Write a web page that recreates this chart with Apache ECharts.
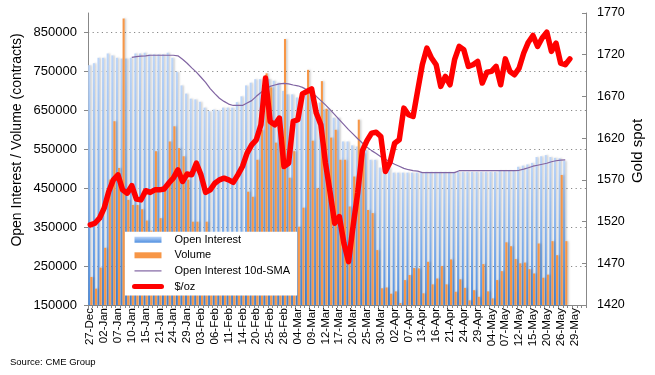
<!DOCTYPE html>
<html>
<head>
<meta charset="utf-8">
<script src="https://cdn.jsdelivr.net/npm/echarts@6/dist/echarts.min.js"></script>
<style>
  html, body { margin: 0; padding: 0; background: #fff; }
  #chart-container { width: 655px; height: 375px; }
</style>
</head>
<body>
<div id="chart-container"></div>
<script>
// fechas (dias de negociacion), etiqueta cada 3
const fechas = [
  '27-Dec','30-Dec','31-Dec','02-Jan','03-Jan','06-Jan','07-Jan','08-Jan','09-Jan','10-Jan',
  '13-Jan','14-Jan','15-Jan','16-Jan','17-Jan','21-Jan','22-Jan','23-Jan','24-Jan','27-Jan',
  '28-Jan','29-Jan','30-Jan','31-Jan','03-Feb','04-Feb','05-Feb','06-Feb','07-Feb','10-Feb',
  '11-Feb','12-Feb','13-Feb','14-Feb','18-Feb','19-Feb','20-Feb','21-Feb','24-Feb','25-Feb',
  '26-Feb','27-Feb','28-Feb','02-Mar','03-Mar','04-Mar','05-Mar','06-Mar','09-Mar','10-Mar',
  '11-Mar','12-Mar','13-Mar','16-Mar','17-Mar','18-Mar','19-Mar','20-Mar','23-Mar','24-Mar',
  '25-Mar','26-Mar','27-Mar','30-Mar','31-Mar','01-Apr','02-Apr','03-Apr','06-Apr','07-Apr',
  '08-Apr','09-Apr','13-Apr','14-Apr','15-Apr','16-Apr','17-Apr','20-Apr','21-Apr','22-Apr',
  '23-Apr','24-Apr','27-Apr','28-Apr','29-Apr','30-Apr','01-May','04-May','05-May','06-May',
  '07-May','08-May','11-May','12-May','13-May','14-May','15-May','18-May','19-May','20-May',
  '21-May','22-May','26-May','27-May','28-May','29-May','01-Jun','02-Jun'
];

const openInterest = [
  766000, 771000, 785000, 785000, 796000, 791000, 785000, 783000, 783000, 785000,
  796000, 796000, 798000, 794000, 794000, 794000, 794000, 798000, 785000, 749000,
  714000, 693000, 680000, 678000, 672000, 657000, 648000, 652000, 650000, 657000,
  657000, 657000, 671000, 686000, 714000, 721000, 730000, 730000, 730000, 730000,
  726000, 721000, 700000, 691000, 691000, 683000, 683000, 696000, 696000, 670000,
  670000, 652000, 652000, 631000, 631000, 570000, 570000, 560000, 557000, 549000,
  549000, 523000, 523000, 503000, 503000, 503000, 490000, 490000, 490000, 490000,
  490000, 490000, 490000, 492000, 492000, 492000, 492000, 492000, 492000, 492000,
  492000, 492000, 492000, 492000, 492000, 492000, 492000, 492000, 492000, 495000,
  495000, 495000, 495000, 505000, 508000, 511000, 515000, 530000, 532000, 535000,
  530000, 528000, 527000, 520000
];

const volumen = [
  222000, 192000, 246000, 297000, 472000, 622000, 502000, 886000, 420000, 407000,
  407000, 396000, 367000, 341000, 545000, 373000, 446000, 570000, 609000, 553000,
  532000, 472000, 364000, 364000, 250000, 364000, 250000, 250000, 250000, 260000,
  250000, 250000, 260000, 250000, 441000, 428000, 523000, 600000, 745000, 709000,
  567000, 600000, 833000, 477000, 545000, 351000, 400000, 754000, 572000, 450000,
  725000, 654000, 580000, 600000, 523000, 523000, 403000, 480000, 626000, 540000,
  394000, 386000, 291000, 193000, 195000, 179000, 185000, 155000, 214000, 227000,
  245000, 244000, 180000, 261000, 203000, 218000, 250000, 203000, 267000, 184000,
  216000, 194000, 162000, 188000, 171000, 255000, 185000, 167000, 214000, 237000,
  311000, 301000, 268000, 257000, 259000, 242000, 231000, 308000, 220000, 228000,
  314000, 278000, 484000, 314000
];

const smaOI = [
  null, null, null, null, null, null, null, null, null, 786000,
  788000, 789000, 790000, 791500, 791500, 791500, 791500, 791500, 791500, 790000,
  781000, 771000, 759000, 748000, 735000, 722000, 706000, 693000, 681000, 673000,
  666000, 662500, 662500, 662500, 669000, 675000, 686000, 696000, 705000, 711500,
  715000, 718000, 719000, 718000, 715000, 713000, 709000, 702500, 695000, 686000,
  675000, 664000, 652000, 639000, 626000, 613500, 600500, 589000, 577000, 566000,
  555500, 546500, 539000, 531000, 524500, 518000, 511500, 506500, 501000, 497500,
  495000, 494000, 490000, 490000, 490000, 490000, 490000, 490000, 490000, 490000,
  495000, 495000, 495000, 495000, 495000, 495000, 495000, 495000, 495000, 495000,
  495000, 495000, 495000, 496000, 499000, 502500, 506500, 509000, 511500, 514000,
  518000, 520500, 522000, 523000
];

const precioOro = [
  1516, 1518, 1524, 1536, 1556, 1570, 1576, 1558, 1554, 1563,
  1547, 1546, 1557, 1555, 1558, 1558, 1559, 1566, 1572, 1582,
  1568, 1577, 1576, 1590, 1576, 1555, 1558, 1566, 1570, 1572,
  1570, 1567, 1576, 1586, 1602, 1612, 1618, 1636, 1692, 1640,
  1636, 1644, 1586, 1590, 1640, 1642, 1673, 1676, 1679, 1650,
  1636, 1590, 1555, 1518, 1526, 1494, 1472, 1515, 1555, 1605,
  1617, 1626, 1627, 1622, 1580, 1591, 1614, 1618, 1656, 1648,
  1646, 1677, 1708, 1728, 1716, 1708, 1682, 1694, 1684, 1714,
  1730, 1726, 1706, 1708, 1712, 1686, 1699, 1700, 1706, 1684,
  1715, 1700, 1696, 1704, 1722, 1735, 1743, 1730, 1740, 1747,
  1724, 1734, 1710, 1708, 1715
];

const fuente = 'Liberation Sans, Arial, sans-serif';
const sinSombra = { shadowBlur: 0, shadowOffsetX: 0, shadowOffsetY: 0 };

let myChart = echarts.init(document.getElementById('chart-container'), null, {
  renderer: 'canvas'
});

const opciones = {
  animation: false,
  backgroundColor: '#ffffff',
  grid: { left: 88, right: 69, top: 13, bottom: 70, containLabel: false },
  legend: {
    orient: 'vertical',
    left: 125,
    top: 231.7,
    padding: [2, 7, 3, 7],
    backgroundColor: '#ffffff',
    itemWidth: 27,
    itemHeight: 6,
    itemGap: 3.6,
    textStyle: { fontSize: 11, color: '#000', fontFamily: fuente, lineHeight: 12, padding: [0, 0, 0, 8] },
    data: [
      { name: 'Open Interest', icon: 'rect', itemStyle: sinSombra },
      { name: 'Volume', icon: 'rect', itemStyle: sinSombra },
      { name: 'Open Interest 10d-SMA', itemStyle: { opacity: 0 }, lineStyle: { width: 1.2 } },
      { name: '$/oz', itemStyle: { opacity: 0 }, lineStyle: { width: 5, cap: 'round' } }
    ]
  },
  graphic: [
    {
      type: 'text', x: 17.5, y: 140, rotation: Math.PI / 2,
      style: { text: 'Open Interest / Volume (contracts)', fontSize: 14, fill: '#000', fontFamily: fuente, align: 'center', verticalAlign: 'middle' }
    },
    {
      type: 'text', x: 638, y: 151, rotation: Math.PI / 2,
      style: { text: 'Gold spot', fontSize: 15, fill: '#000', fontFamily: fuente, align: 'center', verticalAlign: 'middle' }
    },
    {
      type: 'text', x: 10, y: 362,
      style: { text: 'Source: CME Group', fontSize: 9.5, fill: '#000', fontFamily: fuente, align: 'left', verticalAlign: 'middle' }
    }
  ],
  xAxis: {
    type: 'category',
    data: fechas,
    boundaryGap: true,
    axisLine: { lineStyle: { color: '#888' } },
    axisTick: { show: true, interval: 0, length: 3, lineStyle: { color: '#888' } },
    axisLabel: { interval: 2, rotate: 90, fontSize: 11.5, color: '#000', margin: 3, fontFamily: fuente },
    splitLine: { show: false }
  },
  yAxis: [
    {
      type: 'value',
      position: 'left',
      min: 150000,
      max: 900000,
      interval: 100000,
      axisLine: { show: true, lineStyle: { color: '#888' } },
      axisTick: { show: true, length: 4, lineStyle: { color: '#888' } },
      axisLabel: {
        fontSize: 13, color: '#000', margin: 11, fontFamily: fuente, showMaxLabel: false,
        formatter: (v) => String(v)
      },
      splitLine: { show: true, showMaxLine: false, lineStyle: { color: '#888', type: [1.2, 3.4], width: 1 } }
    },
    {
      type: 'value',
      position: 'right',
      min: 1420,
      max: 1770,
      interval: 50,
      axisLine: { show: true, lineStyle: { color: '#888' } },
      axisTick: { show: true, inside: true, length: 4, lineStyle: { color: '#888' } },
      axisLabel: {
        fontSize: 12.5, color: '#000', margin: 11, fontFamily: fuente,
        formatter: (v) => String(v)
      },
      splitLine: { show: false }
    }
  ],
  series: [
    {
      name: 'Open Interest',
      type: 'bar',
      yAxisIndex: 0,
      data: openInterest,
      barGap: '0%',
      barCategoryGap: '10%',
      itemStyle: {
        color: new echarts.graphic.LinearGradient(0, 0, 0, 1, [
          { offset: 0, color: '#bcd5f8' },
          { offset: 1, color: '#4f8fe0' }
        ]),
        shadowColor: 'rgba(0,0,0,0.2)',
        shadowBlur: 2,
        shadowOffsetX: 1.5,
        shadowOffsetY: 0
      }
    },
    {
      name: 'Volume',
      type: 'bar',
      yAxisIndex: 0,
      data: volumen,
      itemStyle: {
        color: '#f79646',
        shadowColor: 'rgba(0,0,0,0.2)',
        shadowBlur: 2,
        shadowOffsetX: 1.5,
        shadowOffsetY: 0
      }
    },
    {
      name: 'Open Interest 10d-SMA',
      type: 'line',
      yAxisIndex: 0,
      data: smaOI,
      symbol: 'none',
      z: 3,
      lineStyle: { color: '#8064a2', width: 1.2 },
      itemStyle: { color: '#8064a2' }
    },
    {
      name: '$/oz',
      type: 'line',
      yAxisIndex: 1,
      data: precioOro,
      symbol: 'none',
      z: 4,
      lineStyle: { color: '#ff0000', width: 5.5, cap: 'round', join: 'round' },
      itemStyle: { color: '#ff0000' }
    }
  ]
};

myChart.setOption(opciones, true);
window.addEventListener('resize', myChart.resize);
</script>
</body>
</html>
